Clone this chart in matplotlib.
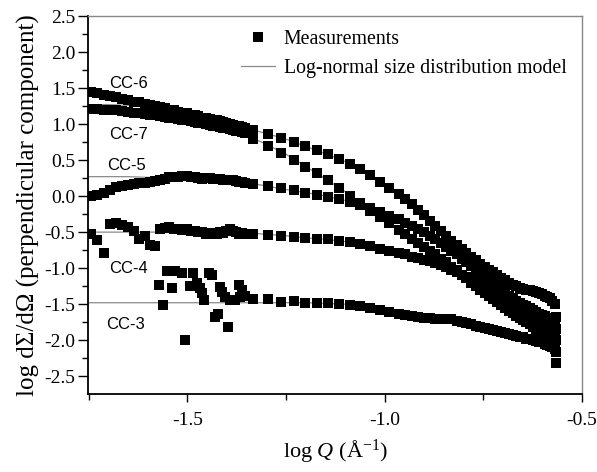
import matplotlib
matplotlib.use("Agg")
import matplotlib.pyplot as plt
from matplotlib.ticker import MultipleLocator, FormatStrFormatter
from matplotlib.lines import Line2D

plt.rcParams['font.family'] = ['Liberation Serif', 'DejaVu Serif']
plt.rcParams['mathtext.fontset'] = 'custom'
plt.rcParams['mathtext.rm'] = 'Liberation Serif'
plt.rcParams['mathtext.it'] = 'Liberation Serif:italic'
plt.rcParams['axes.unicode_minus'] = False

# ---------------- data (log Q in Å^-1, log dΣ/dΩ) ----------------
logq_low = [-1.745, -1.728, -1.712, -1.696, -1.680, -1.665, -1.650, -1.636, -1.622, -1.608,
            -1.595, -1.582, -1.570, -1.558, -1.546, -1.535, -1.524, -1.513, -1.502, -1.492,
            -1.482, -1.472, -1.462, -1.453, -1.444, -1.435, -1.426, -1.417, -1.409, -1.401,
            -1.393, -1.385, -1.377, -1.369, -1.362, -1.355]
logq_high = [-1.333, -1.296, -1.262, -1.231, -1.201, -1.172, -1.143, -1.115, -1.088, -1.062,
             -1.037, -1.012, -0.988, -0.965, -0.948, -0.932, -0.916, -0.901, -0.886, -0.872,
             -0.858, -0.844, -0.831, -0.818, -0.805, -0.793, -0.781, -0.769, -0.758, -0.747,
             -0.736, -0.725, -0.715, -0.705, -0.695, -0.685, -0.676, -0.667, -0.658, -0.649,
             -0.641, -0.633, -0.625, -0.617, -0.609, -0.602, -0.595, -0.588, -0.581, -0.575,
             -0.569, -0.565]

cc6_low = [1.45, 1.43, 1.41, 1.39, 1.37, 1.35, 1.33, 1.31, 1.30, 1.28,
           1.27, 1.25, 1.23, 1.22, 1.20, 1.19, 1.17, 1.16, 1.15, 1.13,
           1.12, 1.11, 1.09, 1.08, 1.07, 1.06, 1.05, 1.04, 1.03, 1.02,
           1.00, 0.99, 0.98, 0.97, 0.96, 0.95]
cc6_high = [0.92, 0.86, 0.81, 0.75, 0.69, 0.64, 0.58, 0.51, 0.44, 0.37,
            0.29, 0.20, 0.11, 0.03, -0.04, -0.11, -0.19, -0.26, -0.34, -0.41,
            -0.48, -0.55, -0.62, -0.68, -0.74, -0.79, -0.84, -0.89, -0.94, -0.98,
            -1.02, -1.06, -1.10, -1.14, -1.17, -1.20, -1.23, -1.25, -1.27, -1.29,
            -1.30, -1.31, -1.32, -1.33, -1.35, -1.36, -1.38, -1.40, -1.42, -1.45,
            -1.50, -1.68]

cc7_low = [1.21, 1.21, 1.20, 1.20, 1.19, 1.18, 1.17, 1.16, 1.15, 1.14,
           1.13, 1.12, 1.11, 1.10, 1.09, 1.08, 1.07, 1.06, 1.05, 1.04,
           1.03, 1.02, 1.01, 1.00, 0.99, 0.98, 0.97, 0.96, 0.95, 0.94,
           0.93, 0.92, 0.91, 0.90, 0.89, 0.88]
cc7_high = [0.79, 0.69, 0.60, 0.50, 0.41, 0.32, 0.22, 0.11, 0.00, -0.10,
            -0.20, -0.29, -0.38, -0.47, -0.53, -0.59, -0.65, -0.70, -0.76, -0.81,
            -0.87, -0.92, -0.98, -1.03, -1.09, -1.14, -1.20, -1.25, -1.30, -1.35,
            -1.39, -1.43, -1.47, -1.51, -1.55, -1.59, -1.62, -1.66, -1.69, -1.72,
            -1.75, -1.78, -1.81, -1.84, -1.87, -1.90, -1.92, -1.95, -1.99, -2.03,
            -2.10, -2.32]

cc5_low = [0.00, 0.02, 0.05, 0.09, 0.12, 0.14, 0.15, 0.17, 0.18, 0.18,
           0.20, 0.21, 0.22, 0.24, 0.26, 0.27, 0.27, 0.28, 0.28, 0.27,
           0.26, 0.25, 0.24, 0.25, 0.25, 0.24, 0.24, 0.24, 0.23, 0.23,
           0.22, 0.22, 0.21, 0.20, 0.19, 0.18]
cc5_high = [0.17, 0.14, 0.11, 0.08, 0.05, 0.02, -0.01, -0.04, -0.08, -0.12,
            -0.17, -0.22, -0.27, -0.32, -0.37, -0.41, -0.46, -0.50, -0.55, -0.60,
            -0.65, -0.70, -0.76, -0.81, -0.87, -0.92, -0.97, -1.03, -1.08, -1.13,
            -1.17, -1.22, -1.26, -1.30, -1.34, -1.38, -1.42, -1.45, -1.48, -1.51,
            -1.53, -1.56, -1.58, -1.61, -1.63, -1.65, -1.67, -1.69, -1.72, -1.75,
            -1.79, -1.84]

cc4_low = [-0.52, -0.61, -0.79, -0.39, -0.37, -0.40, -0.43, -0.48, -0.59, -0.56,
           -0.68, -0.69, -0.45, -0.44, -0.43, -0.45, -0.46, -0.47, -0.46, -0.48,
           -0.49, -0.50, -0.50, -0.52, -0.51, -0.53, -0.52, -0.50, -0.51, -0.49,
           -0.46, -0.48, -0.50, -0.52, -0.51, -0.52]
cc4_high = [-0.53, -0.54, -0.55, -0.57, -0.58, -0.59, -0.60, -0.62, -0.64, -0.66,
            -0.69, -0.73, -0.76, -0.79, -0.81, -0.84, -0.86, -0.88, -0.90, -0.93,
            -0.95, -0.98, -1.02, -1.05, -1.09, -1.12, -1.15, -1.18, -1.21, -1.24,
            -1.27, -1.30, -1.33, -1.36, -1.39, -1.43, -1.46, -1.49, -1.52, -1.55,
            -1.58, -1.61, -1.63, -1.66, -1.69, -1.71, -1.74, -1.77, -1.80, -1.85,
            -1.91, -2.00]

cc3_low_x = [-1.573, -1.561, -1.552, -1.538, -1.531, -1.514, -1.506, -1.493, -1.487, -1.476,
             -1.468, -1.463, -1.457, -1.445, -1.438, -1.430, -1.423, -1.417, -1.413, -1.404,
             -1.396, -1.392, -1.379, -1.370, -1.366, -1.362, -1.354]
cc3_low_y = [-1.23, -1.51, -1.04, -1.28, -1.04, -1.07, -2.00, -1.25, -1.07, -1.20,
             -1.28, -1.35, -1.44, -1.07, -1.10, -1.68, -1.63, -1.26, -1.33, -1.40,
             -1.82, -1.44, -1.44, -1.24, -1.40, -1.31, -1.38]
cc3_high = [-1.43, -1.43, -1.47, -1.46, -1.48, -1.49, -1.49, -1.50, -1.51, -1.53,
            -1.55, -1.58, -1.61, -1.63, -1.65, -1.67, -1.68, -1.69, -1.69, -1.70,
            -1.70, -1.70, -1.71, -1.73, -1.75, -1.76, -1.78, -1.80, -1.81, -1.83,
            -1.84, -1.86, -1.87, -1.89, -1.90, -1.92, -1.93, -1.94, -1.95, -1.96,
            -1.98, -1.99, -2.00, -2.01, -2.02, -2.03, -2.05, -2.06, -2.08, -2.10,
            -2.12, -2.16]

# log-normal model curves
model_x = [-1.75, -1.70, -1.65, -1.60, -1.55, -1.50, -1.45, -1.40, -1.35, -1.30,
           -1.25, -1.20, -1.15, -1.10, -1.05, -1.00, -0.95, -0.90, -0.85, -0.80,
           -0.75, -0.70, -0.65, -0.60, -0.565]
model_cc6 = [1.27, 1.27, 1.26, 1.24, 1.21, 1.15, 1.08, 1.01, 0.94, 0.87,
             0.79, 0.69, 0.59, 0.48, 0.33, 0.16, 0.00, -0.25, -0.50, -0.74,
             -0.97, -1.15, -1.27, -1.36, -1.42]
model_cc7 = [1.20, 1.19, 1.17, 1.14, 1.10, 1.06, 1.00, 0.93, 0.84, 0.72,
             0.58, 0.41, 0.24, 0.06, -0.16, -0.34, -0.52, -0.71, -0.89, -1.10,
             -1.33, -1.56, -1.75, -1.95, -2.08]
model_cc5 = [0.27, 0.27, 0.27, 0.26, 0.26, 0.25, 0.24, 0.22, 0.19, 0.14,
             0.09, 0.05, 0.00, -0.06, -0.14, -0.24, -0.36, -0.50, -0.66, -0.85,
             -1.08, -1.31, -1.49, -1.64, -1.75]
model_cc4 = [-0.50, -0.50, -0.50, -0.50, -0.50, -0.50, -0.50, -0.50, -0.51, -0.53,
             -0.55, -0.58, -0.60, -0.63, -0.67, -0.74, -0.80, -0.88, -0.96, -1.10,
             -1.24, -1.39, -1.55, -1.72, -1.85]
model_cc3 = [-1.48, -1.48, -1.48, -1.48, -1.48, -1.48, -1.48, -1.48, -1.48, -1.48,
             -1.48, -1.48, -1.49, -1.50, -1.53, -1.58, -1.63, -1.68, -1.70, -1.75,
             -1.82, -1.89, -1.96, -2.03, -2.08]

labels = ["CC-6", "CC-7", "CC-5", "CC-4", "CC-3"]
label_pos = [(-1.65, 1.56), (-1.65, 0.86), (-1.655, 0.42), (-1.65, -1.0), (-1.656, -1.78)]

# ---------------- figure ----------------
fig = plt.figure(figsize=(5.97, 4.72), dpi=100)
ax = fig.add_axes([0.1474, 0.1663, 0.8275, 0.7998])

mcol = '#8a8a8a'
for my in [model_cc6, model_cc7, model_cc5, model_cc4, model_cc3]:
    ax.plot(model_x, my, color=mcol, lw=0.9, zorder=1)

mk = dict(ls='none', marker='s', ms=6.5, color='black', mec='black', mew=0, zorder=2)
for lo, hi in [(cc6_low, cc6_high), (cc7_low, cc7_high), (cc5_low, cc5_high), (cc4_low, cc4_high)]:
    ax.plot(logq_low, lo, **mk)
    ax.plot(logq_high, hi, **mk)
ax.plot(cc3_low_x, cc3_low_y, **mk)
ax.plot(logq_high, cc3_high, **mk)

for lab, (lx, ly) in zip(labels, label_pos):
    ax.text(lx, ly, lab, fontsize=12, family='Liberation Sans', ha='center', va='center', zorder=3)

ax.set_xlim(-1.752, -0.5)
ax.set_ylim(-2.74, 2.5)
ax.xaxis.set_major_locator(MultipleLocator(0.5))
ax.xaxis.set_minor_locator(MultipleLocator(0.25))
ax.yaxis.set_major_locator(MultipleLocator(0.5))
ax.yaxis.set_minor_locator(MultipleLocator(0.25))
ax.xaxis.set_major_formatter(FormatStrFormatter('%.1f'))
ax.yaxis.set_major_formatter(FormatStrFormatter('%.1f'))
ax.tick_params(axis='both', which='both', direction='out', top=False, right=False, width=1.0)
ax.tick_params(axis='x', which='major', length=6, pad=7, labelsize=14)
ax.tick_params(axis='x', which='minor', length=4)
ax.tick_params(axis='y', which='major', length=7, pad=2, labelsize=14)
ax.tick_params(axis='y', which='minor', length=4)

for s in ['left', 'bottom']:
    ax.spines[s].set_linewidth(1.3)
    ax.spines[s].set_color('black')
for s in ['top', 'right']:
    ax.spines[s].set_linewidth(1.0)
    ax.spines[s].set_color('#888888')

ax.set_xlabel('log $Q$ (Å$^{-1}$)', fontsize=16, labelpad=6)
ax.set_ylabel('log dΣ/dΩ (perpendicular component)', fontsize=18, labelpad=3)

handles = [Line2D([], [], ls='none', marker='s', ms=7, color='black', mew=0),
           Line2D([], [], color=mcol, lw=0.9)]
ax.legend(handles, ['Measurements', 'Log-normal size distribution model'],
          loc='upper left', bbox_to_anchor=(0.31, 0.962), frameon=False,
          fontsize=14.3, handlelength=1.7, handletextpad=0.45, labelspacing=0.5,
          borderpad=0, borderaxespad=0)

fig.savefig('out.png', dpi=100)
